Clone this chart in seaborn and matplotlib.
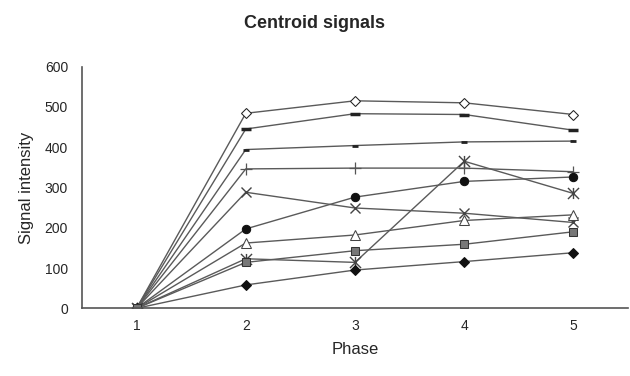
import matplotlib
matplotlib.use("Agg")
import matplotlib.pyplot as plt
from matplotlib.path import Path
import pandas as pd
import seaborn as sns

phases = [1, 2, 3, 4, 5]

# one list per series
open_diamond = [0, 484, 515, 510, 481]
thick_dash = [0, 445, 483, 481, 442]
short_dash = [0, 394, 404, 413, 415]
plus = [0, 346, 348, 348, 339]
cross = [0, 288, 249, 236, 213]
filled_circle = [0, 197, 276, 315, 326]
open_triangle = [0, 162, 182, 218, 232]
star = [0, 123, 114, 365, 285]
filled_diamond = [0, 58, 95, 116, 138]
filled_square = [0, 114, 143, 159, 190]

star_marker = Path(
    [(-1, -1), (1, 1), (-1, 1), (1, -1), (0, 1), (0, -1)],
    [Path.MOVETO, Path.LINETO, Path.MOVETO, Path.LINETO, Path.MOVETO, Path.LINETO],
)

series = [
    ("open_diamond", open_diamond, dict(marker="D", ms=5, mfc="white", mec="#222222")),
    ("thick_dash", thick_dash, dict(marker="_", ms=7, mew=2.5, mec="#222222")),
    ("short_dash", short_dash, dict(marker="_", ms=5, mew=2, mec="#222222")),
    ("plus", plus, dict(marker="+", ms=8, mew=0.9, mec="#555555")),
    ("cross", cross, dict(marker="x", ms=7, mew=1, mec="#444444")),
    ("filled_circle", filled_circle, dict(marker="o", ms=6, mfc="#111111", mec="#111111")),
    ("open_triangle", open_triangle, dict(marker="^", ms=7, mfc="white", mec="#444444")),
    ("star", star, dict(marker=star_marker, ms=8, mew=1, mec="#444444")),
    ("filled_diamond", filled_diamond, dict(marker="D", ms=5, mfc="#111111", mec="#111111")),
    ("filled_square", filled_square, dict(marker="s", ms=6, mfc="#777777", mec="#333333")),
]

sns.set_style("white")
plt.rcParams["font.family"] = ["Liberation Sans", "DejaVu Sans"]

fig = plt.figure(figsize=(6.3, 3.76), dpi=100)
ax = fig.add_axes([0.130, 0.18, 0.867, 0.643])

for name, vals, style in series:
    df = pd.DataFrame({"phase": phases, "value": vals})
    sns.lineplot(data=df, x="phase", y="value", ax=ax, color="#5a5a5a",
                 linewidth=1, legend=False, **style)

ax.set_xlim(0.5, 5.5)
ax.set_ylim(0, 600)
ax.set_yticks(range(0, 601, 100))
ax.set_xticks([1.5, 2.5, 3.5, 4.5, 5.5])
ax.set_xticklabels([])
ax.set_xticks(phases, minor=True)
ax.set_xticklabels([str(p) for p in phases], minor=True, fontsize=10)
ax.tick_params(axis="x", which="major", direction="in", length=4, color="#555555")
ax.tick_params(axis="x", which="minor", length=0, pad=8)
ax.tick_params(axis="y", direction="in", length=4, color="#555555", labelsize=10, pad=10)

for side in ["top", "right"]:
    ax.spines[side].set_visible(False)
for side in ["left", "bottom"]:
    ax.spines[side].set_color("#555555")
    ax.spines[side].set_linewidth(1.2)

ax.set_xlabel("Phase", fontsize=12, labelpad=6)
ax.set_ylabel("Signal intensity", fontsize=12, labelpad=8)
fig.suptitle("Centroid signals", fontsize=13, fontweight="bold", x=0.5, y=0.96)

fig.savefig("out.png", dpi=100)
